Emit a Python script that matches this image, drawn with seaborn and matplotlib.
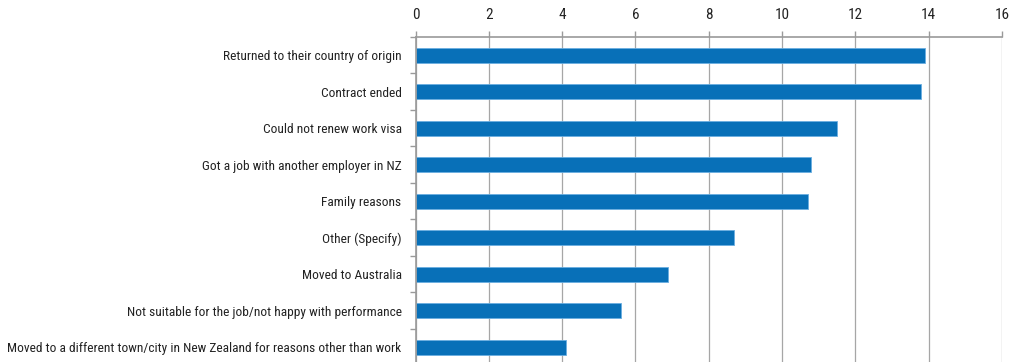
import matplotlib
matplotlib.use("Agg")
import matplotlib.pyplot as plt
from matplotlib import font_manager
from matplotlib.ticker import FixedLocator
import seaborn as sns
import pandas as pd
import numpy as np

reasons = [
    "Returned to their country of origin",
    "Contract ended",
    "Could not renew work visa",
    "Got a job with another employer in NZ",
    "Family reasons",
    "Other (Specify)",
    "Moved to Australia",
    "Not suitable for the job/not happy with performance",
    "Moved to a different town/city in New Zealand for reasons other than work",
]
percent = [13.9, 13.8, 11.5, 10.8, 10.7, 8.7, 6.9, 5.6, 4.1]
x_ticks = [0, 2, 4, 6, 8, 10, 12, 14, 16]

df = pd.DataFrame({"reason": reasons, "percent": percent})

sns.set_theme(style="white")
# pick a narrow sans-serif face for the labels
installed = {f.name for f in font_manager.fontManager.ttflist}
narrow = next((n for n in ["Liberation Sans Narrow", "Arial Narrow", "Roboto Condensed",
                           "PT Sans Narrow", "Archivo Narrow", "Liberation Sans"]
               if n in installed), "DejaVu Sans")
plt.rcParams["font.family"] = [narrow, "DejaVu Sans"]

fig = plt.figure(figsize=(10.09, 3.62), dpi=100)
ax = fig.add_axes([415.5 / 1009, 1 - 365.5 / 362, (1002 - 415.5) / 1009, (365.5 - 37) / 362])

sns.barplot(data=df, x="percent", y="reason", orient="h", color="#0870B8",
            width=0.4, edgecolor="#6AAEE0", linewidth=0.6, saturation=1, ax=ax)

ax.set_xlim(0, 16)
ax.set_ylim(len(reasons) - 0.5, -0.5)
ax.xaxis.tick_top()
ax.set_xticks(x_ticks)
ax.set_xticklabels([str(t) for t in x_ticks])
ax.set_xlabel("")
ax.set_ylabel("")

ax.grid(axis="x", color="#A6A6A6", linewidth=0.9)
ax.set_axisbelow(True)
for side in ["right", "bottom"]:
    ax.spines[side].set_visible(False)
for side in ["top", "left"]:
    ax.spines[side].set_color("#9A9A9A")
    ax.spines[side].set_linewidth(1.2)

ax.tick_params(axis="x", which="major", top=True, length=4, width=1, color="#9A9A9A",
               labelsize=11, labelcolor="#222222", pad=7)
ax.tick_params(axis="y", which="major", left=False, length=0, labelsize=9.6,
               labelcolor="#222222", pad=10)
ax.yaxis.set_minor_locator(FixedLocator(np.arange(-0.5, len(reasons), 1.0)))
ax.tick_params(axis="y", which="minor", left=True, length=4, width=1, color="#9A9A9A")

fig.savefig("out.png", dpi=100)
